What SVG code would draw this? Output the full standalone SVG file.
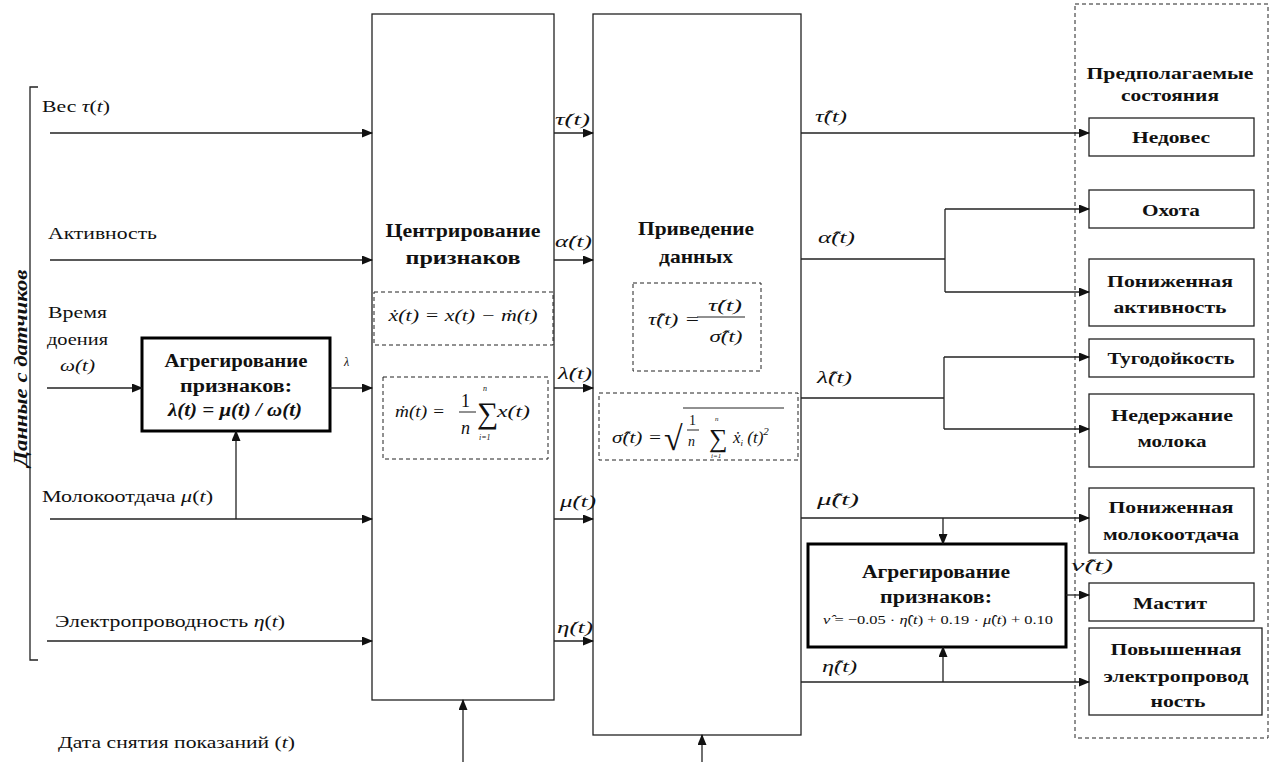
<svg xmlns="http://www.w3.org/2000/svg" width="1272" height="762" viewBox="0 0 1272 762">
<style>
text{font-family:'Liberation Serif','Times New Roman',serif;fill:#111}
.it{font-style:italic}
.b{font-weight:bold}
.m{text-anchor:middle}
.st{font-weight:bold;text-anchor:middle;font-size:16.5px}
.box{fill:#fff;stroke:#222;stroke-width:1.3}
.thick{fill:#fff;stroke:#000;stroke-width:3}
.dash{fill:none;stroke:#222;stroke-width:1;stroke-dasharray:4 3}
.ln{fill:none;stroke:#222;stroke-width:1.3}
.thin{fill:none;stroke:#222;stroke-width:1}
.arr{fill:none;stroke:#222;stroke-width:1.3;marker-end:url(#ah)}
</style>
<defs>
<marker id="ah" markerUnits="userSpaceOnUse" markerWidth="11" markerHeight="9" refX="10" refY="4.5" orient="auto"><path d="M0,0 L11,4.5 L0,9 z" fill="#111"/></marker>
</defs>
<rect width="1272" height="762" fill="#fff"/>
<g font-size="17">

<g id="sensors">
<path class="ln" d="M38,87 H30 V660 H38"/>
<text class="b it" font-size="19" transform="translate(27,368) rotate(-90)" text-anchor="middle" textLength="197" lengthAdjust="spacingAndGlyphs">Данные с датчиков</text>
<text x="42" y="112" textLength="68" lengthAdjust="spacingAndGlyphs">Вес <tspan class="it">τ</tspan>(<tspan class="it">t</tspan>)</text>
<text x="48" y="239" textLength="109" lengthAdjust="spacingAndGlyphs">Активность</text>
<text x="48" y="318" textLength="59" lengthAdjust="spacingAndGlyphs">Время</text>
<text x="47" y="345" textLength="61" lengthAdjust="spacingAndGlyphs">доения</text>
<text class="it" x="60" y="371" textLength="35" lengthAdjust="spacingAndGlyphs">ω(t)</text>
<text x="42" y="502" textLength="171" lengthAdjust="spacingAndGlyphs">Молокоотдача <tspan class="it">μ</tspan>(<tspan class="it">t</tspan>)</text>
<text x="55" y="627" textLength="230" lengthAdjust="spacingAndGlyphs">Электропроводность <tspan class="it">η</tspan>(<tspan class="it">t</tspan>)</text>
<text x="58" y="748" textLength="237" lengthAdjust="spacingAndGlyphs">Дата снятия показаний (<tspan class="it">t</tspan>)</text>
</g>

<g id="agg-left">
<rect class="thick" x="142" y="338" width="188" height="93"/>
<text class="b m" font-size="18" x="236" y="367" textLength="143" lengthAdjust="spacingAndGlyphs">Агрегирование</text>
<text class="b m" font-size="18" x="236" y="392" textLength="112" lengthAdjust="spacingAndGlyphs">признаков:</text>
<text class="b it m" font-size="18" x="235" y="416" textLength="134" lengthAdjust="spacingAndGlyphs">λ(t) = μ(t) / ω(t)</text>
<text class="it" font-size="12" x="344" y="366">λ</text>
</g>

<g id="centering">
<rect class="box" x="372" y="14" width="182" height="686"/>
<text class="b m" font-size="19" x="463" y="237" textLength="155" lengthAdjust="spacingAndGlyphs">Центрирование</text>
<text class="b m" font-size="19" x="463" y="264" textLength="115" lengthAdjust="spacingAndGlyphs">признаков</text>
<rect class="dash" x="374" y="292" width="179" height="53"/>
<text class="it m" x="463" y="321" textLength="149" lengthAdjust="spacingAndGlyphs">ẋ(t) = x(t) − ṁ(t)</text>
<rect class="dash" x="383" y="377" width="165" height="82"/>
<text class="it" x="395" y="417" textLength="50" lengthAdjust="spacingAndGlyphs">ṁ(t) =</text>
<text font-size="18" x="461" y="407">1</text>
<path class="thin" d="M459,412 H476"/>
<text class="it" font-size="18" x="461" y="434">n</text>
<text font-size="30" x="477" y="423">∑</text>
<text class="it" font-size="8" x="483" y="391">n</text>
<text class="it" font-size="8" x="479" y="440">i=1</text>
<text class="it" x="497" y="417" textLength="33" lengthAdjust="spacingAndGlyphs">x(t)</text>
</g>

<g id="normalization">
<rect class="box" x="593" y="14" width="208" height="721"/>
<text class="b m" font-size="19" x="696" y="235" textLength="116" lengthAdjust="spacingAndGlyphs">Приведение</text>
<text class="b m" font-size="19" x="696" y="263" textLength="74" lengthAdjust="spacingAndGlyphs">данных</text>
<rect class="dash" x="633" y="283" width="128" height="88"/>
<text class="it" x="648" y="325" textLength="52" lengthAdjust="spacingAndGlyphs">τ̂(t) =</text>
<text class="it m" x="725" y="311" textLength="34" lengthAdjust="spacingAndGlyphs">τ̇(t)</text>
<path class="thin" d="M697,317 H745"/>
<text class="it m" x="726" y="342" textLength="33" lengthAdjust="spacingAndGlyphs">σ̂(t)</text>
<rect class="dash" x="599" y="393" width="199" height="67"/>
<text class="it" x="612" y="443" textLength="50" lengthAdjust="spacingAndGlyphs">σ̂(t) =</text>
<text font-size="34" x="664" y="450">√</text>
<path class="thin" d="M683,408 H784"/>
<text font-size="14" x="689" y="425">1</text>
<path class="thin" d="M687,430 H699"/>
<text class="it" font-size="14" x="688" y="446">n</text>
<text font-size="26" x="709" y="447">∑</text>
<text class="it" font-size="7" x="715" y="421">n</text>
<text class="it" font-size="7" x="711" y="458">i=1</text>
<text class="it" x="733" y="443">ẋ<tspan font-size="9" dy="3">i</tspan><tspan dy="-3"> (t)</tspan><tspan font-size="11" dy="-8">2</tspan></text>
</g>

<g id="dot-labels">
<text class="it" x="555" y="125" textLength="35" lengthAdjust="spacingAndGlyphs">τ̇(t)</text>
<text class="it" x="555" y="247" textLength="37" lengthAdjust="spacingAndGlyphs">α̇(t)</text>
<text class="it" x="558" y="379" textLength="34" lengthAdjust="spacingAndGlyphs">λ̇(t)</text>
<text class="it" x="560" y="507" textLength="36" lengthAdjust="spacingAndGlyphs">μ̇(t)</text>
<text class="it" x="557" y="633" textLength="36" lengthAdjust="spacingAndGlyphs">η̇(t)</text>
</g>

<g id="hat-labels">
<text class="it" x="815" y="122" textLength="32" lengthAdjust="spacingAndGlyphs">τ̂(t)</text>
<text class="it" x="818" y="243" textLength="37" lengthAdjust="spacingAndGlyphs">α̂(t)</text>
<text class="it" x="817" y="383" textLength="35" lengthAdjust="spacingAndGlyphs">λ̂(t)</text>
<text class="it" x="817" y="505" textLength="42" lengthAdjust="spacingAndGlyphs">μ̂(t)</text>
<text class="it" x="822" y="672" textLength="35" lengthAdjust="spacingAndGlyphs">η̂(t)</text>
<text class="it" x="1071" y="571" textLength="42" lengthAdjust="spacingAndGlyphs">ν̂(t)</text>
</g>

<g id="agg-right">
<rect class="thick" x="808" y="544" width="258" height="103"/>
<text class="b m" font-size="18" x="936" y="578" textLength="148" lengthAdjust="spacingAndGlyphs">Агрегирование</text>
<text class="b m" font-size="18" x="936" y="603" textLength="112" lengthAdjust="spacingAndGlyphs">признаков:</text>
<text class="m" font-size="13" x="938" y="624" textLength="230" lengthAdjust="spacingAndGlyphs"><tspan class="it">ν̂</tspan> = −0.05 · <tspan class="it">η̂</tspan>(<tspan class="it">t</tspan>) + 0.19 · <tspan class="it">μ̂</tspan>(<tspan class="it">t</tspan>) + 0.10</text>
</g>

<g id="states">
<rect class="dash" x="1075" y="4" width="193" height="734"/>
<text class="st" x="1170" y="79" textLength="167" lengthAdjust="spacingAndGlyphs">Предполагаемые</text>
<text class="st" x="1170" y="101" textLength="98" lengthAdjust="spacingAndGlyphs">состояния</text>
</g>
<g id="s-nedoves"><rect class="box" x="1089" y="118" width="165" height="38"/><text class="st" x="1171" y="143" textLength="78" lengthAdjust="spacingAndGlyphs">Недовес</text></g>
<g id="s-ohota"><rect class="box" x="1089" y="190" width="165" height="38"/><text class="st" x="1171" y="216" textLength="58" lengthAdjust="spacingAndGlyphs">Охота</text></g>
<g id="s-ponact"><rect class="box" x="1089" y="259" width="165" height="67"/><text class="st" x="1170" y="287" textLength="126" lengthAdjust="spacingAndGlyphs">Пониженная</text><text class="st" x="1170" y="313" textLength="113" lengthAdjust="spacingAndGlyphs">активность</text></g>
<g id="s-tugo"><rect class="box" x="1089" y="339" width="165" height="38"/><text class="st" x="1171" y="364" textLength="127" lengthAdjust="spacingAndGlyphs">Тугодойкость</text></g>
<g id="s-nederzh"><rect class="box" x="1089" y="394" width="165" height="73"/><text class="st" x="1172" y="421" textLength="122" lengthAdjust="spacingAndGlyphs">Недержание</text><text class="st" x="1172" y="447" textLength="69" lengthAdjust="spacingAndGlyphs">молока</text></g>
<g id="s-ponmol"><rect class="box" x="1089" y="488" width="165" height="65"/><text class="st" x="1171" y="513" textLength="125" lengthAdjust="spacingAndGlyphs">Пониженная</text><text class="st" x="1171" y="540" textLength="136" lengthAdjust="spacingAndGlyphs">молокоотдача</text></g>
<g id="s-mastit"><rect class="box" x="1089" y="583" width="165" height="38"/><text class="st" x="1170" y="609" textLength="74" lengthAdjust="spacingAndGlyphs">Мастит</text></g>
<g id="s-povel"><rect class="box" x="1089" y="628" width="173" height="87"/><text class="st" x="1176" y="655" textLength="131" lengthAdjust="spacingAndGlyphs">Повышенная</text><text class="st" x="1176" y="682" textLength="145" lengthAdjust="spacingAndGlyphs">электропровод</text><text class="st" x="1178" y="707" textLength="55" lengthAdjust="spacingAndGlyphs">ность</text></g>

<g id="connectors">
<path class="arr" d="M50,133 H372"/>
<path class="arr" d="M50,260 H372"/>
<path class="arr" d="M47,388 H142"/>
<path class="arr" d="M330,388 H372"/>
<path class="arr" d="M50,519 H372"/>
<path class="arr" d="M236,519 V431"/>
<path class="arr" d="M47,641 H372"/>
<path class="arr" d="M554,133 H593"/>
<path class="arr" d="M554,260 H593"/>
<path class="arr" d="M554,388 H593"/>
<path class="arr" d="M554,519 H593"/>
<path class="arr" d="M554,641 H593"/>
<path class="arr" d="M463,762 V700"/>
<path class="arr" d="M702,762 V735"/>
<path class="arr" d="M801,133 H1089"/>
<path class="ln" d="M801,259 H945 M945,209 V292"/>
<path class="arr" d="M945,209 H1089"/>
<path class="arr" d="M945,292 H1089"/>
<path class="ln" d="M801,398 H944 M944,357 V429"/>
<path class="arr" d="M944,357 H1089"/>
<path class="arr" d="M944,429 H1089"/>
<path class="arr" d="M801,518 H1089"/>
<path class="arr" d="M943,518 V544"/>
<path class="arr" d="M801,682 H1089"/>
<path class="arr" d="M943,682 V647"/>
<path class="arr" d="M1066,595 H1089"/>
</g>
</g>
</svg>
